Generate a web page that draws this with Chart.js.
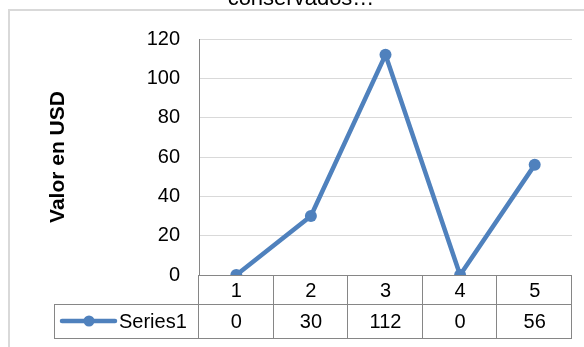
<!DOCTYPE html>
<html>
<head>
<meta charset="utf-8">
<script src="https://cdn.jsdelivr.net/npm/chart.js@4/dist/chart.umd.min.js"></script>
<style>
  html, body { margin: 0; padding: 0; background: #fff; }
  #grafico { display: block; }
</style>
</head>
<body>
<canvas id="grafico" width="584" height="347"></canvas>
<script>
// Datos
var categorias = ['1', '2', '3', '4', '5'];
var serie1 = [0, 30, 112, 0, 56];
var nombreSerie = 'Series1';
var titulo = 'conservados…';
var tituloEje = 'Valor en USD';

var azul = '#4f81bd';
var borde = '#868686';
var fuente = '"Liberation Sans", Arial, sans-serif';

// marco, titulo y tabla de datos debajo del grafico (estilo Excel)
var tablaDatos = {
    id: 'tablaDatos',
    beforeDraw: function(chart) {
        var ctx = chart.ctx;
        ctx.save();
        ctx.strokeStyle = '#d9d9d9';
        ctx.lineWidth = 2;
        ctx.beginPath();
        ctx.moveTo(9, 400);
        ctx.lineTo(9, 10);
        ctx.lineTo(600, 10);
        ctx.stroke();
        // titulo cortado arriba
        ctx.fillStyle = '#000';
        ctx.font = '22px ' + fuente;
        ctx.textAlign = 'center';
        ctx.textBaseline = 'alphabetic';
        ctx.fillText(titulo, 301, 5);
        ctx.restore();
    },
    afterDraw: function(chart) {
        var ctx = chart.ctx;
        var area = chart.chartArea;
        var x = chart.scales.x;
        var n = categorias.length;
        var ancho = (area.right - area.left) / n;
        var y0 = Math.round(area.bottom), y1 = y0 + 29, y2 = y1 + 34;
        var izq = 54;

        ctx.save();
        ctx.strokeStyle = borde;
        ctx.lineWidth = 1;
        ctx.beginPath();
        ctx.moveTo(area.left, y0 + 0.5); ctx.lineTo(area.right, y0 + 0.5);
        ctx.moveTo(izq, y1 + 0.5); ctx.lineTo(area.right, y1 + 0.5);
        ctx.moveTo(izq, y2 + 0.5); ctx.lineTo(area.right, y2 + 0.5);
        ctx.moveTo(izq + 0.5, y1); ctx.lineTo(izq + 0.5, y2);
        for (var i = 0; i <= n; i++) {
            var xx = Math.round(area.left + i * ancho) - 0.5;
            ctx.moveTo(xx, y0); ctx.lineTo(xx, y2 + 1);
        }
        ctx.stroke();

        ctx.fillStyle = '#000';
        ctx.font = '20px ' + fuente;
        ctx.textAlign = 'center';
        ctx.textBaseline = 'middle';
        for (var j = 0; j < n; j++) {
            var cx = x.getPixelForValue(j);
            ctx.fillText(categorias[j], cx, (y0 + y1) / 2 + 2);
            ctx.fillText(String(serie1[j]), cx, (y1 + y2) / 2 + 1);
        }

        // leyenda en la tabla
        var ly = (y1 + y2) / 2;
        ctx.strokeStyle = azul;
        ctx.lineWidth = 4.5;
        ctx.lineCap = 'round';
        ctx.beginPath();
        ctx.moveTo(62, ly); ctx.lineTo(115, ly);
        ctx.stroke();
        ctx.fillStyle = azul;
        ctx.beginPath();
        ctx.arc(89, ly, 5.5, 0, Math.PI * 2);
        ctx.fill();
        ctx.fillStyle = '#000';
        ctx.textAlign = 'left';
        ctx.fillText(nombreSerie, 119, ly + 1);
        ctx.restore();
    }
};

function grafico() {
    var ctx = document.getElementById('grafico').getContext('2d');
    var miGrafico = new Chart(ctx, {
        type: 'line',
        data: {
            labels: categorias,
            datasets: [{
                label: nombreSerie,
                data: serie1,
                borderColor: azul,
                backgroundColor: azul,
                borderWidth: 4.5,
                pointRadius: 6,
                pointHoverRadius: 6,
                pointBackgroundColor: azul,
                pointBorderWidth: 0,
                tension: 0
            }]
        },
        options: {
            responsive: false,
            animation: false,
            events: [],
            layout: { padding: { left: 0, top: 39, right: 12, bottom: 72 } },
            plugins: {
                legend: { display: false },
                title: { display: false },
                tooltip: { enabled: false }
            },
            scales: {
                x: {
                    display: false,
                    offset: true
                },
                y: {
                    min: 0,
                    max: 120,
                    ticks: {
                        stepSize: 20,
                        padding: 19,
                        color: '#000',
                        font: { family: fuente, size: 20 }
                    },
                    grid: { color: '#d9d9d9', drawTicks: false },
                    border: { color: borde, width: 1 },
                    title: {
                        display: true,
                        text: tituloEje,
                        color: '#000',
                        font: { family: fuente, size: 21, weight: 'bold' },
                        padding: { top: 46, bottom: 0 }
                    },
                    afterFit: function(s) { s.width = 199; }
                }
            }
        },
        plugins: [tablaDatos]
    });
}

grafico();
</script>
</body>
</html>
